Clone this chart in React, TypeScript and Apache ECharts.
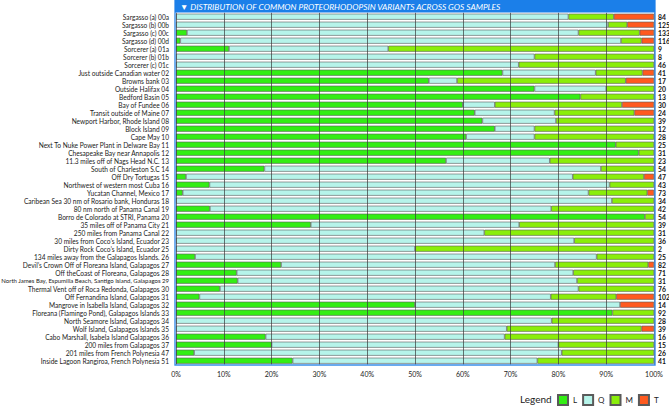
import React, { useEffect, useRef } from "react";
import * as echarts from "echarts";

const categories = [
  "Sargasso (a) 00a", "Sargasso (b) 00b", "Sargasso (c) 00c", "Sargasso (d) 00d",
  "Sorcerer (a) 01a", "Sorcerer (b) 01b", "Sorcerer (c) 01c",
  "Just outside Canadian water 02", "Browns bank 03", "Outside Halifax 04", "Bedford Basin 05",
  "Bay of Fundee 06", "Transit outside of Maine 07", "Newport Harbor, Rhode Island 08",
  "Block Island 09", "Cape May 10", "Next To Nuke Power Plant in Delware Bay 11",
  "Chesapeake Bay near Annapolis 12", "11.3 miles off of Nags Head N.C. 13",
  "South of Charleston S.C 14", "Off Dry Tortugas 15", "Northwest of western most Cuba 16",
  "Yucatan Channel, Mexico 17", "Caribean Sea 30 nm of Rosario bank, Honduras 18",
  "80 nm north of Panama Canal 19", "Borro de Colorado at STRI, Panama 20",
  "35 miles off of Panama City 21", "250 miles from Panama Canal 22",
  "30 miles from Coco\u2019s Island, Ecuador 23", "Dirty Rock Coco\u2019s Island, Ecuador 25",
  "134 miles away from the Galapagos Islands. 26",
  "Devil\u2019s Crown Off of Floreana Island, Galapagos 27", "Off theCoast of Floreana, Galapagos 28",
  "North James Bay, Espumilla Beach, Santigo Island, Galapagos 29",
  "Thermal Vent off of Roca Redonda, Galapagos 30", "Off Fernandina Island, Galapagos 31",
  "Mangrove in Isabella Island, Galapagos 32", "Floreana (Flamingo Pond), Galapagos Islands 33",
  "North Seamore Island, Galapagos 34", "Wolf Island, Galapagos Islands 35",
  "Cabo Marshall, Isabela Island Galapagos 36", "200 miles from Galapagos 37",
  "201 miles from French Polynesia 47", "Inside Lagoon Rangiroa, French Polynesia 51",
];

const totals = [84, 125, 133, 116, 9, 8, 46, 41, 17, 20, 13, 30, 24, 39, 12, 28, 25, 31, 23, 54, 47, 43, 73, 34, 42, 54, 39, 31, 36, 2, 25, 82, 71, 31, 76, 102, 14, 92, 28, 39, 16, 15, 26, 41];

const pctL = [0, 0, 2.3, 0.9, 11.1, 0, 0, 68.3, 52.9, 75, 84.6, 60, 62.5, 64.1, 66.7, 60.7, 92, 96.8, 56.5, 18.5, 2.1, 7.0, 1.4, 0, 7.1, 98.1, 28.2, 0, 0, 0, 4, 22.0, 12.7, 12.9, 9.2, 4.9, 50, 91.3, 0, 0, 18.75, 20, 3.8, 24.4];
const pctQ = [82.1, 90.4, 81.9, 92.2, 33.3, 75, 71.7, 19.5, 5.9, 15, 0, 6.7, 16.7, 15.4, 8.3, 14.3, 0, 0, 21.7, 70.4, 80.9, 83.7, 84.9, 91.2, 71.4, 0, 43.6, 64.5, 83.3, 50, 84, 57.3, 70.4, 71.0, 75.0, 73.5, 42.9, 0, 78.6, 69.2, 50, 60, 76.9, 51.2];
const pctM = [9.5, 4.0, 12.8, 4.3, 55.6, 25, 28.3, 9.8, 35.3, 10, 15.4, 26.6, 16.7, 20.5, 25, 25, 8, 3.2, 21.8, 11.1, 14.9, 9.3, 12.3, 8.8, 21.5, 1.9, 28.2, 35.5, 16.7, 50, 12, 19.5, 16.9, 16.1, 15.8, 13.7, 0, 8.7, 21.4, 28.2, 31.25, 20, 19.3, 24.4];
const pctT = [8.4, 5.6, 3.0, 2.6, 0, 0, 0, 2.4, 5.9, 0, 0, 6.7, 4.1, 0, 0, 0, 0, 0, 0, 0, 2.1, 0, 1.4, 0, 0, 0, 0, 0, 0, 0, 0, 1.2, 0, 0, 0, 7.9, 7.1, 0, 0, 2.6, 0, 0, 0, 0];

const seriesNames = ["L", "Q", "M", "T"];
const seriesColors = ["#33ee14", "#b6f4ea", "#8aee0a", "#ff5a1f"];
const xTicks = [0, 10, 20, 30, 40, 50, 60, 70, 80, 90, 100];

const FONT = "Lato, 'Open Sans', sans-serif";

export default function App() {
  const ref = useRef<HTMLDivElement>(null);
  useEffect(() => {
    document.body.style.margin = "0";
    const chart = echarts.init(ref.current!, null, { renderer: "svg" });
    const values = [pctL, pctQ, pctM, pctT];
    chart.setOption({
      animation: false,
      backgroundColor: "#ffffff",
      textStyle: { fontFamily: FONT },
      grid: {
        left: 176,
        right: 15,
        top: 12.7,
        bottom: 41.3,
        containLabel: false,
        outerBoundsMode: "none",
      },
      xAxis: {
        type: "value",
        min: xTicks[0],
        max: xTicks[xTicks.length - 1],
        interval: 10,
        z: 10,
        axisLine: { show: false },
        axisTick: { show: false },
        axisLabel: { formatter: "{value}%", fontSize: 7, color: "#222", margin: 6, fontFamily: FONT },
        splitLine: { show: true, lineStyle: { color: "#3a3a3a", width: 0.7 } },
      },
      yAxis: [
        {
          type: "category",
          data: categories,
          inverse: true,
          axisLine: { show: false },
          axisTick: { show: false },
          axisLabel: {
            fontSize: 6.6,
            color: "#222",
            margin: 7,
            interval: 0,
            fontFamily: FONT,
            formatter: (v: string) => (v.length > 55 ? `{s|${v}}` : v),
            rich: { s: { fontSize: 6.0, color: "#222", fontFamily: FONT } },
          },
        },
        {
          type: "category",
          data: totals.map(String),
          inverse: true,
          position: "right",
          axisLine: { show: false },
          axisTick: { show: false },
          axisLabel: { fontSize: 6.8, color: "#111", margin: 4, interval: 0, fontWeight: "bold", fontFamily: FONT },
        },
      ],
      legend: {
        data: seriesNames,
        left: 557,
        top: 394,
        padding: 0,
        itemWidth: 10,
        itemHeight: 10,
        itemGap: 5,
        icon: "rect",
        textStyle: { fontSize: 8, color: "#222", fontFamily: FONT },
        selectedMode: false,
      },
      series: seriesNames.map((name, i) => ({
        name,
        type: "bar",
        stack: "total",
        yAxisIndex: 0,
        barWidth: 6,
        itemStyle: { color: seriesColors[i], borderColor: "#5a5a5a", borderWidth: 0.6 },
        emphasis: { disabled: true },
        data: values[i].map((v) => (v === 0 ? null : v)),
      })),
      graphic: [
        {
          type: "rect",
          shape: { x: 175, y: 0, width: 480, height: 12.5 },
          style: { fill: "#1b7fe9" },
          z: 20,
        },
        {
          type: "text",
          x: 180,
          y: 6.5,
          style: {
            text: "\u25BC DISTRIBUTION OF COMMON PROTEORHODOPSIN VARIANTS ACROSS GOS SAMPLES",
            fill: "#ffffff",
            fontSize: 8.4,
            fontStyle: "italic",
            fontFamily: FONT,
            verticalAlign: "middle",
          },
          z: 21,
        },
        {
          type: "rect",
          shape: { x: 175, y: 0.5, width: 480, height: 364.5 },
          style: { fill: "none", stroke: "#3a8ee9", lineWidth: 1.4 },
          z: 19,
        },
        {
          type: "text",
          x: 520,
          y: 399,
          style: { text: "Legend", fill: "#222", fontSize: 10, fontFamily: FONT, verticalAlign: "middle" },
          z: 21,
        },
      ],
    });
    return () => chart.dispose();
  }, []);
  return <div ref={ref} style={{ position: "fixed", left: 0, top: 0, width: 669, height: 406 }} />;
}
